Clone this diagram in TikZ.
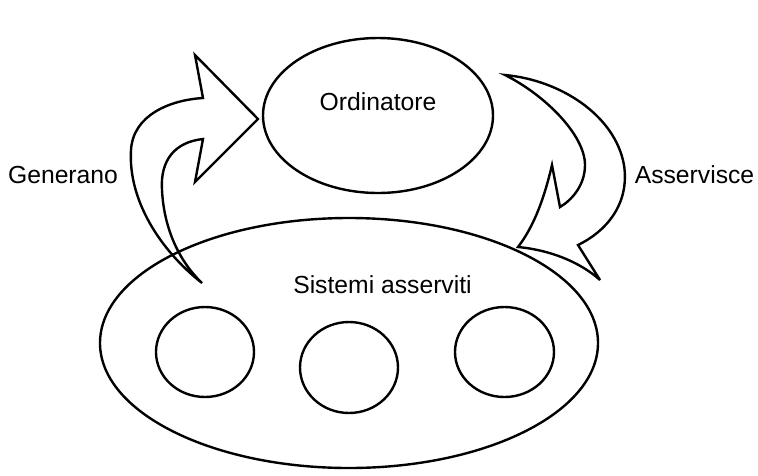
\documentclass[tikz,border=0pt]{standalone}
\usepackage{fontspec}
\setmainfont{Liberation Sans}
\usetikzlibrary{shapes.geometric}
\tikzset{
  ell/.style={draw=black, line width=2.4pt, ellipse, inner sep=0pt, outer sep=0pt},
  lbl/.style={anchor=base, inner sep=0pt, font=\fontsize{24.7}{29}\selectfont},
  bigarrow/.style={draw=black, line width=2.4pt, line join=miter, miter limit=6}
}
\begin{document}
\begin{tikzpicture}[x=1pt,y=-1pt]
\useasboundingbox (0,0) rectangle (758,475);
% ellipses
\node[ell, minimum width=230pt, minimum height=155pt] (ord) at (378,115.5) {};
\node[ell, minimum width=498pt, minimum height=250pt] (sys) at (349,343) {};
\node[ell, minimum width=98pt, minimum height=90pt] (c1) at (205,352) {};
\node[ell, minimum width=98pt, minimum height=91pt] (c2) at (349,367.5) {};
\node[ell, minimum width=99pt, minimum height=90pt] (c3) at (504.5,352) {};
% labels
\node[lbl] (tord) at (378,110) {Ordinatore};
\node[lbl] (tsys) at (382.5,293) {Sistemi asserviti};
\node[lbl] (tgen) at (63,183) {Generano};
\node[lbl] (tass) at (694.5,183) {Asservisce};
% left arrow (Generano)
\draw[bigarrow] (202,283)
  .. controls (160,250) and (128,200) .. (131,150)
  .. controls (133,115) and (170,100) .. (203,98)
  -- (195,55) -- (258,119) -- (195,182) -- (203,139)
  .. controls (175,142) and (160,160) .. (162,190)
  .. controls (164,230) and (180,262) .. cycle;
% right arrow (Asservisce)
\draw[bigarrow] (505,75)
  .. controls (560,80) and (615,115) .. (624,165)
  .. controls (630,205) and (605,232) .. (578,245)
  -- (600,280)
  .. controls (580,262) and (550,250) .. (518,247)
  .. controls (535,225) and (545,195) .. (552,165)
  -- (560,207)
  .. controls (572,200) and (585,185) .. (585,165)
  .. controls (585,135) and (545,95) .. cycle;
\end{tikzpicture}
\end{document}
